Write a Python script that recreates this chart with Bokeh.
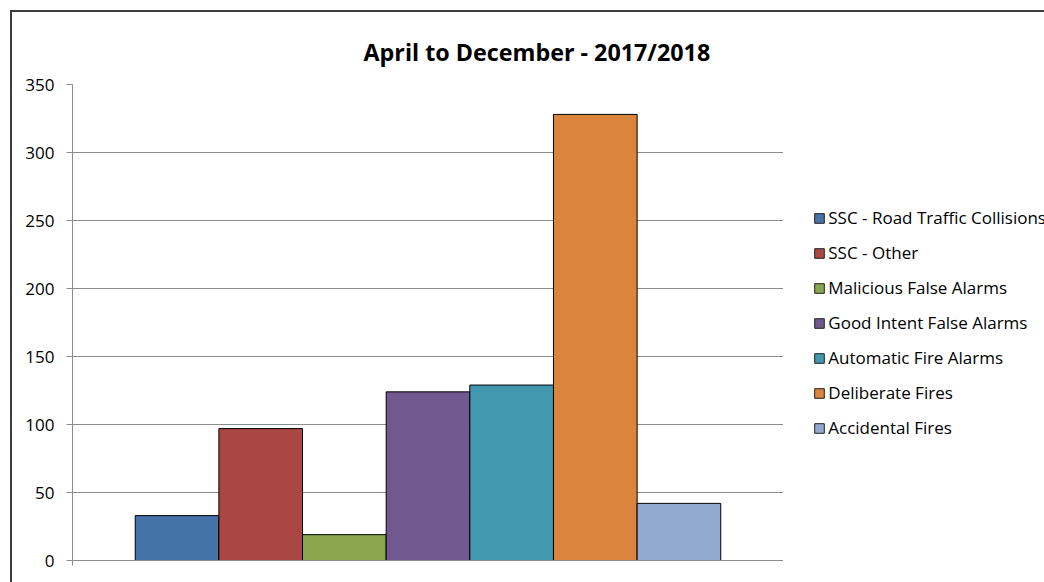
from bokeh.plotting import figure
from bokeh.layouts import row
from bokeh.models import Range1d, FixedTicker, Legend, LegendItem, ColumnDataSource
from bokeh.embed import file_html
from bokeh.resources import INLINE

# ---- data ----
categories = ["SSC - Road Traffic Collisions", "SSC - Other", "Malicious False Alarms",
              "Good Intent False Alarms", "Automatic Fire Alarms", "Deliberate Fires",
              "Accidental Fires"]
values = [33, 97, 19, 124, 129, 328, 42]
colors = ["#4572A7", "#AA4643", "#89A54E", "#71588F", "#4198AF", "#DB843D", "#93A9CF"]
y_ticks = [0, 50, 100, 150, 200, 250, 300, 350]
title_text = "April to December - 2017/2018"

FONT = "Open Sans"
GRID = "#8c8c8c"

n = len(categories)
x_lo, x_hi = -1.25, n - 1 + 1.25
p = figure(width=771, height=570,
           x_range=Range1d(x_lo, x_hi), y_range=Range1d(0, 350),
           output_backend="svg", toolbar_location=None,
           min_border_left=60, min_border_right=0, min_border_top=72, min_border_bottom=22)
p.outline_line_color = None
p.background_fill_color = "white"
p.border_fill_color = "white"

# title
p.title.text = title_text
p.title.align = "left"
p.title.offset = 291
p.title.text_font = FONT
p.title.text_font_style = "bold"
p.title.text_font_size = "23.3px"
p.title.text_color = "black"
p.title.standoff = 33

# axes
p.yaxis.ticker = FixedTicker(ticks=y_ticks)
p.yaxis.axis_line_color = GRID
p.yaxis.major_tick_line_color = GRID
p.yaxis.major_tick_out = 6
p.yaxis.major_tick_in = 0
p.yaxis.minor_tick_line_color = None
p.yaxis.major_label_standoff = 12
p.yaxis.major_label_text_font = FONT
p.yaxis.major_label_text_font_size = "17px"
p.yaxis.major_label_text_color = "black"

p.xaxis.ticker = FixedTicker(ticks=[x_lo, x_hi])
p.xaxis.major_label_overrides = {x_lo: "", x_hi: ""}
p.xaxis.axis_line_color = GRID
p.xaxis.major_tick_line_color = GRID
p.xaxis.major_tick_out = 5
p.xaxis.major_tick_in = 0
p.xaxis.minor_tick_line_color = None
p.xaxis.major_label_standoff = 0

p.xgrid.visible = False
p.ygrid.grid_line_color = GRID
p.ygrid.grid_line_width = 1

for i, (val, col) in enumerate(zip(values, colors)):
    src = ColumnDataSource(dict(x=[i], top=[val]))
    p.vbar(x="x", top="top", width=1, bottom=0, source=src,
           fill_color=col, line_color="black", line_width=1)

# legend panel to the right of the plot area
p2 = figure(width=261, height=570, x_range=Range1d(0, 1), y_range=Range1d(0, 1),
            output_backend="svg", toolbar_location=None,
            min_border=0, x_axis_location=None, y_axis_location=None)
p2.outline_line_color = None
p2.grid.visible = False
p2.background_fill_color = "white"
p2.border_fill_color = "white"

items = []
for cat, col in zip(categories, colors):
    # swatch renderer kept outside the visible range; only its legend glyph shows
    swatch = p2.vbar(x=[5], top=[1], width=1, fill_color=col, line_color="#222222", line_width=1)
    items.append(LegendItem(label=cat, renderers=[swatch]))

legend = Legend(items=items, location=(30.3, 120.7), orientation="vertical",
                padding=0, spacing=12, label_height=20, glyph_height=12, glyph_width=12,
                label_standoff=3, border_line_color=None, background_fill_alpha=0,
                margin=0, label_text_font=FONT, label_text_font_size="17px",
                label_text_color="black")
p2.add_layout(legend)

layout = row(p, p2)
layout.margin = (10, 0, 0, 10)
layout.styles = {"border-top": "2px solid #3c3c3c", "border-left": "2px solid #3c3c3c"}

open("out.html", "w").write(file_html(layout, INLINE))
